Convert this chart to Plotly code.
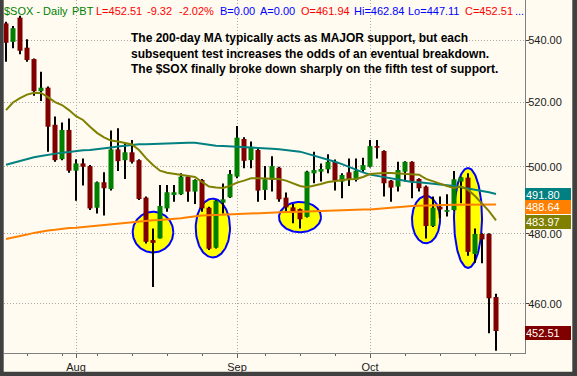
import numpy as np
import plotly.graph_objects as go

# ---------------- data ----------------
opens = [545.5, 539.4, 547.4, 537.5, 533.8, 523.5, 524.6, 512.9, 502.3, 511.3,
         498.8, 501.0, 500.2, 487.7, 495.3, 493.3, 505.3, 502.0, 504.4, 502.0,
         490.7, 478.2, 478.7, 487.5, 491.5, 491.7, 497.0, 492.5, 496.0, 487.7,
         476.0, 489.2, 490.8, 497.0, 508.5, 502.0, 505.1, 493.0, 496.0, 499.7,
         490.7, 487.8, 487.3, 485.0, 498.0, 498.5, 499.2, 501.5, 495.5, 498.3,
         496.0, 499.0, 500.0, 506.3, 504.8, 495.8, 494.0, 498.5, 501.5, 496.3,
         494.0, 482.3, 488.0, 486.5, 487.0, 495.5, 496.7, 474.2, 480.0, 480.0,
         461.94]
highs = [546.0, 544.6, 548.0, 540.3, 534.0, 529.7, 525.0, 515.5, 513.6, 514.9,
         502.3, 502.5, 500.5, 495.5, 498.3, 511.1, 511.8, 507.4, 508.2, 502.3,
         491.0, 481.6, 494.5, 494.5, 494.5, 498.0, 497.5, 496.2, 496.3, 488.0,
         490.0, 494.9, 499.0, 512.5, 509.0, 507.7, 505.5, 500.2, 503.2, 500.0,
         492.2, 488.8, 487.5, 498.8, 504.6, 501.0, 503.8, 502.2, 498.0, 502.5,
         502.5, 502.7, 508.2, 508.2, 505.0, 496.0, 501.5, 501.7, 501.7, 496.5,
         494.3, 491.0, 491.0, 491.7, 498.7, 497.0, 498.0, 481.6, 480.2, 480.2,
         462.84]
lows = [532.9, 537.3, 535.4, 532.9, 522.0, 520.4, 504.6, 501.5, 502.0, 498.2,
        489.8, 494.3, 487.0, 486.0, 485.4, 492.8, 498.7, 496.3, 501.0, 490.0,
        477.2, 464.8, 478.7, 486.5, 489.5, 491.5, 489.5, 488.8, 486.5, 475.3,
        475.8, 486.0, 490.6, 496.5, 499.5, 499.5, 489.5, 490.0, 492.5, 489.5,
        486.5, 483.1, 481.6, 484.8, 495.0, 495.5, 498.0, 492.8, 490.5, 494.2,
        495.5, 498.5, 499.8, 502.5, 491.0, 489.5, 492.5, 495.5, 490.5, 492.5,
        478.7, 482.0, 484.6, 485.1, 486.8, 489.0, 473.7, 471.7, 471.5, 451.9,
        447.11]
closes = [539.1, 543.9, 536.5, 533.5, 523.5, 524.6, 512.3, 502.0, 511.3, 498.8,
          501.0, 500.0, 487.5, 495.3, 493.5, 505.3, 501.7, 504.4, 501.5, 490.3,
          477.7, 477.4, 488.2, 492.3, 492.3, 497.0, 492.5, 496.0, 487.5, 475.7,
          489.8, 490.2, 497.8, 508.9, 501.8, 506.0, 492.8, 496.2, 500.2, 490.2,
          487.8, 486.7, 484.3, 498.5, 499.0, 499.3, 501.5, 495.8, 497.5, 496.0,
          498.8, 500.5, 506.3, 505.8, 495.0, 493.7, 499.0, 501.5, 495.5, 493.5,
          482.3, 487.7, 487.2, 487.0, 496.2, 496.8, 474.8, 480.0, 478.4, 461.6,
          452.51]

ma_teal = [500.6, 501.2, 501.8, 502.4, 502.9, 503.3, 503.7, 504.0, 504.3, 504.5,
           504.8, 505.0, 505.1, 505.3, 505.6, 505.9, 506.2, 506.5, 506.8, 506.9,
           506.9, 507.0, 507.1, 507.1, 507.2, 507.2, 507.3, 507.3, 507.0, 506.5,
           506.4, 506.3, 506.2, 506.1, 506.0, 506.0, 505.9, 505.7, 505.5, 505.3,
           505.1, 504.9, 504.6, 504.0, 503.4, 502.9, 502.2, 501.5, 500.8, 499.9,
           499.0, 498.3, 497.6, 497.2, 496.8, 496.4, 496.1, 495.7, 495.4, 495.3,
           495.1, 494.9, 494.7, 494.5, 494.2, 493.8, 493.5, 493.1, 492.7, 492.3,
           491.80]
ma_olive = [517.5, 519.9, 521.3, 522.4, 523.0, 522.9, 521.6, 520.0, 519.1, 517.5,
            515.6, 514.4, 512.3, 510.4, 509.0, 508.0, 507.7, 507.3, 506.8, 505.1,
            502.6, 500.5, 498.8, 498.2, 497.9, 497.6, 497.3, 496.9, 495.4, 494.0,
            493.7, 493.6, 494.2, 495.2, 495.8, 496.5, 496.5, 496.5, 496.5, 496.3,
            495.8, 495.1, 494.2, 493.8, 494.2, 494.8, 495.4, 495.7, 496.0, 496.2,
            496.3, 496.9, 497.8, 498.0, 498.1, 498.1, 498.0, 497.9, 497.7, 497.6,
            496.3, 495.5, 494.9, 494.2, 493.6, 494.0, 493.0, 491.2, 488.8, 486.7,
            483.97]
ma_orange = [478.5, 478.9, 479.2, 479.8, 480.3, 480.7, 481.0, 481.2, 481.5, 481.7,
             481.8, 482.0, 482.2, 482.4, 482.7, 483.0, 483.2, 483.4, 483.6, 483.8,
             483.9, 484.0, 484.1, 484.2, 484.3, 484.6, 484.9, 485.2, 485.4, 485.5,
             485.6, 485.7, 485.8, 485.9, 486.0, 486.1, 486.2, 486.3, 486.3, 486.3,
             486.4, 486.4, 486.5, 486.5, 486.6, 486.6, 486.7, 486.8, 486.9, 487.0,
             487.1, 487.2, 487.2, 487.4, 487.6, 487.7, 487.9, 488.0, 488.2, 488.3,
             488.4, 488.5, 488.5, 488.5, 488.6, 488.6, 488.6, 488.6, 488.6, 488.6,
             488.64]

month_ticks = [10, 33, 52]
month_labels = ["Aug", "Sep", "Oct"]
week_ticks = [3, 8, 13, 18, 23, 28, 37, 42, 47, 57, 62, 67, 72]
price_ticks = [460, 480, 500, 520, 540]

# support tests highlighted: (first bar, last bar, low price, high price)
test_zones = [(18.1, 23.9, 474.6, 486.5),
              (27.1, 32.0, 473.2, 490.4),
              (39.0, 45.0, 480.5, 489.4),
              (58.0, 62.0, 477.3, 491.2),
              (64.0, 68.0, 470.2, 499.6)]

note_lines = ["The 200-day MA typically acts as MAJOR support, but each",
              "subsequent test increases the odds of an eventual breakdown.",
              "The $SOX finally broke down sharply on the fifth test of support."]

header_items = [("$SOX - Daily", "#008000", 4.4), ("PBT", "#008000", 72),
                ("L=452.51", "#FF0000", 96.4), ("-9.32", "#FF0000", 147),
                ("-2.02%", "#FF0000", 178.5), ("B=0.00", "#0000FF", 219.7),
                ("A=0.00", "#0000FF", 260.2), ("O=461.94", "#FF0000", 301),
                ("Hi=462.84", "#0000FF", 354), ("Lo=447.11", "#0000FF", 407.8),
                ("C=452.51", "#FF0000", 464.5), ("...", "#0000FF", 514.5)]

# ---------------- styling ----------------
BG = "#FFFBF0"
BORDER = "#404040"
UP = "#008000"
DOWN = "#800000"
TEAL = "#008080"
OLIVE = "#808000"
ORANGE = "#FF8000"
FONT = "Liberation Sans, Arial, sans-serif"

W, H = 577, 376
ML, MR, MT, MB = 4, 52, 0, 23
PW, PH = W - ML - MR, H - MT - MB

n = len(closes)
x = list(range(n))

fig = go.Figure()

# highlighted support tests (ellipses, drawn first so candles sit on top)
t = np.linspace(0, 2 * np.pi, 121)
for x0, x1, lo, hi in test_zones:
    cx, rx = (x0 + x1) / 2, (x1 - x0) / 2
    cyl, ryl = (np.log10(lo) + np.log10(hi)) / 2, (np.log10(hi) - np.log10(lo)) / 2
    fig.add_trace(go.Scatter(x=cx + rx * np.cos(t), y=10 ** (cyl + ryl * np.sin(t)),
                             mode="lines", fill="toself", fillcolor="#FFFF00",
                             line=dict(color="#0000FF", width=2), hoverinfo="skip"))

# wicks
wx, wy = [], []
for i in x:
    wx += [i, i, None]
    wy += [lows[i], highs[i], None]
fig.add_trace(go.Scatter(x=wx, y=wy, mode="lines", line=dict(color="black", width=2),
                         hoverinfo="skip"))

# bodies
for up, col in [(True, UP), (False, DOWN)]:
    bx, by = [], []
    for i in x:
        o, c = opens[i], closes[i]
        if (c >= o) != up:
            continue
        lo_b, hi_b = min(o, c), max(o, c)
        if hi_b - lo_b < 0.4:
            hi_b = lo_b + 0.4
        bx += [i, i, None]
        by += [lo_b, hi_b, None]
    fig.add_trace(go.Scatter(x=bx, y=by, mode="lines", line=dict(color=col, width=5),
                             hoverinfo="skip"))

for ma, col in [(ma_orange, ORANGE), (ma_teal, TEAL), (ma_olive, OLIVE)]:
    fig.add_trace(go.Scatter(x=x, y=ma, mode="lines",
                             line=dict(color=col, width=2), hoverinfo="skip"))


def px_to_paper_x(px):
    return (px - ML) / PW


def py_to_paper_y(py):
    return (H - MB - py) / PH


shapes = []
# dark frame
shapes.append(dict(type="rect", xref="paper", yref="paper", x0=px_to_paper_x(-2),
                   x1=px_to_paper_x(3.7), y0=py_to_paper_y(380), y1=py_to_paper_y(-2),
                   fillcolor=BORDER, line=dict(width=0), layer="above"))
shapes.append(dict(type="rect", xref="paper", yref="paper", x0=px_to_paper_x(572.3),
                   x1=px_to_paper_x(580), y0=py_to_paper_y(380), y1=py_to_paper_y(-2),
                   fillcolor=BORDER, line=dict(width=0), layer="above"))
shapes.append(dict(type="rect", xref="paper", yref="paper", x0=px_to_paper_x(-2),
                   x1=px_to_paper_x(580), y0=py_to_paper_y(380), y1=py_to_paper_y(371.7),
                   fillcolor=BORDER, line=dict(width=0), layer="above"))

annotations = []
for text, col, px in header_items:
    annotations.append(dict(text=text, xref="paper", yref="paper",
                            x=px_to_paper_x(px), y=py_to_paper_y(11.5),
                            xanchor="left", yanchor="middle", showarrow=False,
                            borderpad=0, borderwidth=0,
                            font=dict(family=FONT, size=11, color=col)))

annotations.append(dict(text="<br>".join(note_lines), xref="paper", yref="paper",
                        x=px_to_paper_x(131), y=py_to_paper_y(53.5),
                        xanchor="left", yanchor="middle", align="left",
                        showarrow=False, borderpad=0, borderwidth=0,
                        font=dict(family=FONT, size=12, color="black", weight="bold")))

tags = [(ma_teal[-1], TEAL, -1), (ma_orange[-1], ORANGE, -2),
        (ma_olive[-1], OLIVE, -1.5), (closes[-1], DOWN, -2)]
for val, col, shift in tags:
    annotations.append(dict(text="%.2f" % val, xref="paper", yref="y",
                            x=1, y=np.log10(val), yshift=shift,
                            xanchor="left", yanchor="middle", align="left",
                            showarrow=False, bgcolor=col, width=44, height=12,
                            borderpad=1, borderwidth=0,
                            font=dict(family=FONT, size=11, color="white")))

fig.update_layout(
    width=W, height=H, margin=dict(l=ML, r=MR, t=MT, b=MB),
    paper_bgcolor=BG, plot_bgcolor=BG, showlegend=False,
    shapes=shapes, annotations=annotations,
    xaxis=dict(range=[-2 / 7, -2 / 7 + PW / 7], tickvals=month_ticks,
               ticktext=month_labels, ticks="outside", ticklen=4,
               tickcolor="#606060", showgrid=True, gridcolor="#A8A8A8",
               griddash="1px,2px", showline=True, linecolor="#808080",
               zeroline=False, tickfont=dict(family=FONT, size=11, color="#202020"),
               minor=dict(tickvals=week_ticks, ticks="outside", ticklen=2,
                          tickcolor="#606060", showgrid=False)),
    yaxis=dict(type="log", side="right",
               range=[np.log10(446.5), np.log10(553.3)],
               tickvals=price_ticks, ticktext=["%.2f" % v for v in price_ticks],
               ticks="outside", ticklen=3, tickcolor="#404040",
               ticklabelstandoff=-3,
               showgrid=True, gridcolor="#A8A8A8", griddash="1px,2px",
               showline=True, linecolor="#808080", zeroline=False,
               tickfont=dict(family=FONT, size=11, color="#202020")),
)

fig.write_html("out.html")
